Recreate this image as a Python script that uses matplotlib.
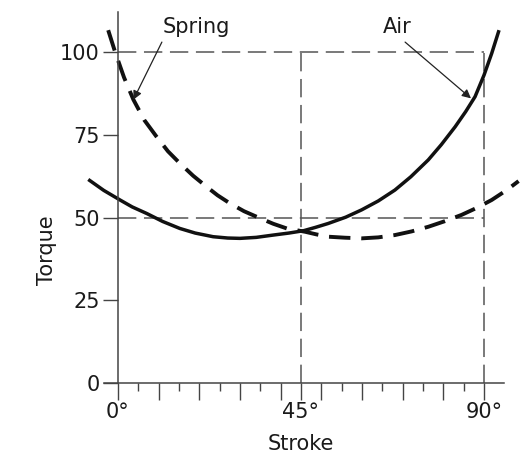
import matplotlib
matplotlib.use("Agg")
import matplotlib.pyplot as plt
from matplotlib.ticker import FixedLocator, FuncFormatter

# torque vs stroke
air_stroke = [-7.3, -3.5, 0.5, 3.5, 7.1, 11, 15.2, 19, 23.4, 27, 30, 34, 38.2, 42, 45.6,
              48.5, 51.7, 56, 59.9, 64, 68.1, 72, 76.3, 79.5, 82.9, 85.5, 87.8, 90, 91.9, 93.7]
air_torque = [61.5, 58.2, 55.3, 53.2, 51.2, 48.8, 46.7, 45.3, 44.2, 43.8, 43.7, 44.0, 44.7, 45.3, 46.0,
              47.0, 48.2, 50.1, 52.3, 55.0, 58.3, 62.3, 67.4, 72.0, 77.4, 82.0, 86.5, 93.0, 99.6, 106.6]

spring_stroke = [-2.4, -0.7, 1.5, 3.8, 6.5, 9.5, 12.3, 15.2, 18.5, 21.8, 24.5, 27.5, 31, 34.9, 38.2, 41.5, 46,
                 48.8, 51.7, 55.8, 59.9, 64, 68.1, 72.2, 76.3, 80.4, 84.5, 88.2, 91.9, 95.6, 98.5]
spring_torque = [106.6, 100.0, 92.3, 85.6, 79.4, 74.4, 70.0, 66.4, 62.6, 59.3, 56.7, 54.3, 51.9, 49.8, 48.1, 46.7, 45.7,
                 44.9, 44.2, 43.9, 43.7, 44.0, 44.7, 45.8, 47.2, 48.9, 50.8, 52.9, 55.3, 58.3, 61.0]

y_ticks = [0, 25, 50, 75, 100]
x_labels = {0: "0°", 45: "45°", 90: "90°"}

plt.rcParams["font.family"] = "DejaVu Sans"
fig = plt.figure(figsize=(5.29, 4.57), dpi=100)
ax = fig.add_axes([0.1461, 0.1619, 0.8457, 0.8112])
ax.set_xlim(-10, 100)
ax.set_ylim(0, 112)

# reference grid lines
grid_kw = dict(color="#555555", lw=1.1, dashes=(12, 5))
ax.plot([0, 90], [100, 100], **grid_kw)
ax.plot([0, 90], [50, 50], **grid_kw)
ax.plot([45, 45], [0, 100], **grid_kw)
ax.plot([90, 90], [0, 100], **grid_kw)

ax.plot(air_stroke, air_torque, color="#111111", lw=2.5, solid_capstyle="butt")
ax.plot(spring_stroke, spring_torque, color="#111111", lw=2.8, dashes=(5.5, 2.8))

# callouts
txt = dict(fontsize=15, ha="center", va="center", color="#1a1a1a")
ax.text(19.2, 107.5, "Spring", **txt)
ax.text(68.7, 107.5, "Air", **txt)
arr = dict(arrowstyle="-|>", color="#222222", lw=0.9, shrinkA=0, shrinkB=0, mutation_scale=13)
ax.annotate("", xy=(3.8, 85.6), xytext=(10.8, 103), arrowprops=arr)
ax.annotate("", xy=(86.8, 86), xytext=(70.6, 103), arrowprops=arr)

for s in ["top", "right"]:
    ax.spines[s].set_visible(False)
ax.spines["left"].set_position(("data", 0))
ax.spines["left"].set_bounds(0, 112)
ax.spines["bottom"].set_bounds(-3.4, 95)
for s in ["left", "bottom"]:
    ax.spines[s].set_color("#444444")
    ax.spines[s].set_linewidth(1.1)

ax.set_yticks(y_ticks)
ax.tick_params(axis="y", direction="out", length=11, width=1, color="#444444",
               labelsize=15, pad=2, labelcolor="#1a1a1a")

major = [0, 10, 20, 30, 40, 45, 50, 60, 70, 80, 90]
minor = [5, 15, 25, 35, 55, 65, 75, 85]
ax.xaxis.set_major_locator(FixedLocator(major))
ax.xaxis.set_minor_locator(FixedLocator(minor))
ax.xaxis.set_major_formatter(FuncFormatter(lambda v, p: x_labels.get(int(round(v)), "")))
ax.tick_params(axis="x", which="major", direction="out", length=12, width=1,
               color="#444444", labelsize=15, pad=2, labelcolor="#1a1a1a")
ax.tick_params(axis="x", which="minor", direction="out", length=6, width=1, color="#444444")

ax.set_xlabel("Stroke", fontsize=15, color="#1a1a1a")
ax.set_ylabel("Torque", fontsize=15, color="#1a1a1a")
ax.xaxis.set_label_coords(0.5, -0.138)
ax.yaxis.set_label_coords(-0.045, 0.359)

fig.savefig("out.png", dpi=100)
